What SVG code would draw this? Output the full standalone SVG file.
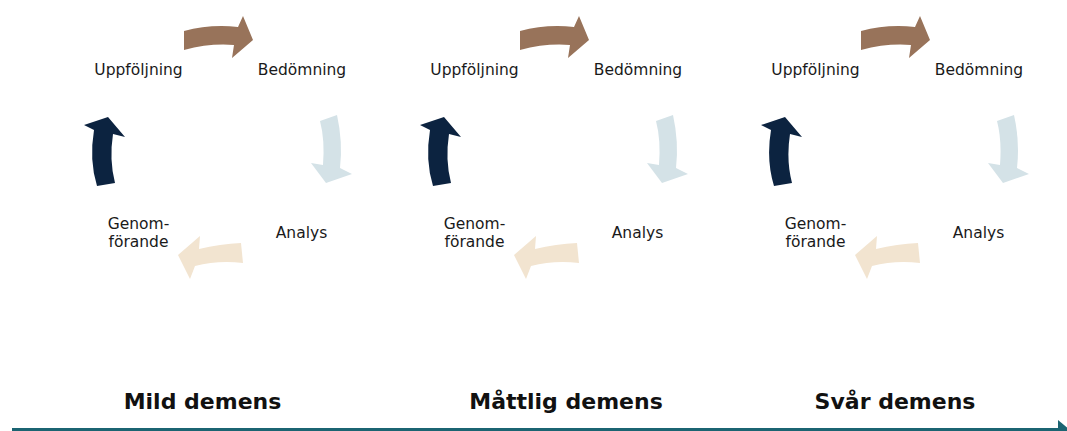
<svg xmlns="http://www.w3.org/2000/svg" width="1067" height="431" viewBox="0 0 1067 431">
  <style>
    .lbl { font-family: "DejaVu Sans", "Liberation Sans", sans-serif; font-size: 15.5px; fill: #1a1a1a; text-anchor: middle; }
    .stage { font-family: "DejaVu Sans", "Liberation Sans", sans-serif; font-size: 22px; font-weight: bold; fill: #111; text-anchor: middle; }
    .a-top { fill: #98735a; }
    .a-right { fill: #d4e2e7; }
    .a-bottom { fill: #f2e4d0; }
    .a-left { fill: #0c2340; }
  </style>
  <defs>
    <path id="arrTop" d="M184,31 Q210,24 238,27 L243,16 L253,40 L232,58 L234,45 Q210,43 184,50 Z"/>
    <path id="arrRight" d="M320,121 L337,115 Q343,142 340,168 L352,174 L326,183 L311,163 L323,165 Q325,140 320,121 Z"/>
    <path id="arrBottom" d="M241,243 L243,263 Q218,260 195,266 L190,279 L178,255 L200,236 L199,249 Q220,244 241,243 Z"/>
    <path id="arrLeft" d="M97,186 L115,183 Q109,160 113,134 L125,137 L108,117 L84,125 L94,130 Q89,160 97,186 Z"/>
  </defs>
  <rect width="1067" height="431" fill="#ffffff"/>

  <g id="connectors">
    <g transform="translate(0,0)">
      <use href="#arrTop" class="a-top"/>
      <use href="#arrRight" class="a-right"/>
      <use href="#arrBottom" class="a-bottom"/>
      <use href="#arrLeft" class="a-left"/>
    </g>
    <g transform="translate(336,0)">
      <use href="#arrTop" class="a-top"/>
      <use href="#arrRight" class="a-right"/>
      <use href="#arrBottom" class="a-bottom"/>
      <use href="#arrLeft" class="a-left"/>
    </g>
    <g transform="translate(677,0)">
      <use href="#arrTop" class="a-top"/>
      <use href="#arrRight" class="a-right"/>
      <use href="#arrBottom" class="a-bottom"/>
      <use href="#arrLeft" class="a-left"/>
    </g>
    <g id="timeline">
      <line x1="12" y1="429.5" x2="1060" y2="429.5" stroke="#1b6472" stroke-width="3"/>
      <polygon points="1058,420 1070,430 1058,440" fill="#1b6472"/>
    </g>
  </g>

  <g id="cycle1">
    <g id="c1-uppfoljning"><text class="lbl" x="138.5" y="75">Uppföljning</text></g>
    <g id="c1-bedomning"><text class="lbl" x="302" y="75">Bedömning</text></g>
    <g id="c1-analys"><text class="lbl" x="301.5" y="238">Analys</text></g>
    <g id="c1-genomforande"><text class="lbl" x="138.5" y="229">Genom-</text><text class="lbl" x="138.5" y="247">förande</text></g>
  </g>
  <g id="cycle2" transform="translate(336,0)">
    <g id="c2-uppfoljning"><text class="lbl" x="138.5" y="75">Uppföljning</text></g>
    <g id="c2-bedomning"><text class="lbl" x="302" y="75">Bedömning</text></g>
    <g id="c2-analys"><text class="lbl" x="301.5" y="238">Analys</text></g>
    <g id="c2-genomforande"><text class="lbl" x="138.5" y="229">Genom-</text><text class="lbl" x="138.5" y="247">förande</text></g>
  </g>
  <g id="cycle3" transform="translate(677,0)">
    <g id="c3-uppfoljning"><text class="lbl" x="138.5" y="75">Uppföljning</text></g>
    <g id="c3-bedomning"><text class="lbl" x="302" y="75">Bedömning</text></g>
    <g id="c3-analys"><text class="lbl" x="301.5" y="238">Analys</text></g>
    <g id="c3-genomforande"><text class="lbl" x="138.5" y="229">Genom-</text><text class="lbl" x="138.5" y="247">förande</text></g>
  </g>

  <g id="stage-mild"><text class="stage" x="202.5" y="409">Mild demens</text></g>
  <g id="stage-mattlig"><text class="stage" x="566" y="409">Måttlig demens</text></g>
  <g id="stage-svar"><text class="stage" x="895" y="409">Svår demens</text></g>
</svg>
